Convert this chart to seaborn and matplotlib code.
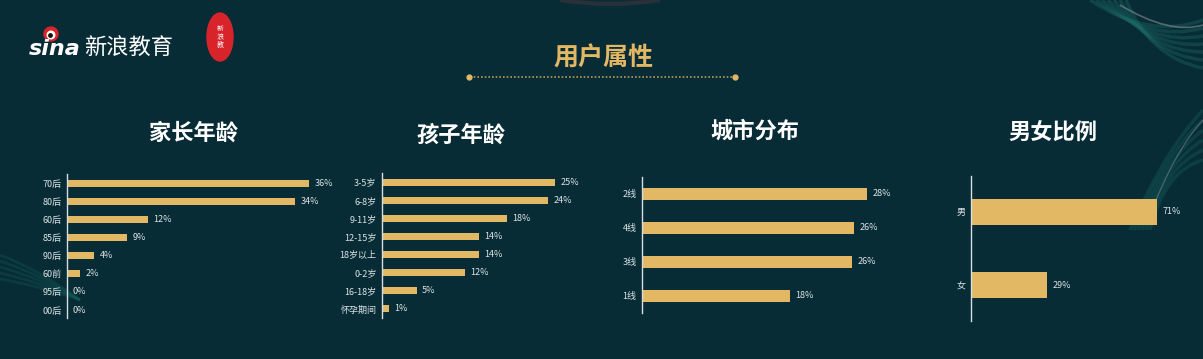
import numpy as np
import pandas as pd
import seaborn as sns
import matplotlib.pyplot as plt
from matplotlib.patches import Ellipse, Circle
from matplotlib.path import Path
from matplotlib.patches import PathPatch

# ---------------- data ----------------
parent_age_labels = ["70后", "80后", "60后", "85后", "90后", "60前", "95后", "00后"]
parent_age_values = [36, 34, 12, 9, 4, 2, 0, 0]

child_age_labels = ["3-5岁", "6-8岁", "9-11岁", "12-15岁", "18岁以上", "0-2岁", "16-18岁", "怀孕期间"]
child_age_values = [25, 24, 18, 14, 14, 12, 5, 1]

city_labels = ["2线", "4线", "3线", "1线"]
city_values = [28, 26.4, 26.1, 18.4]

gender_labels = ["男", "女"]
gender_values = [71, 29]

panel_titles = ["家长年龄", "孩子年龄", "城市分布", "男女比例"]
main_title = "用户属性"

# ---------------- style ----------------
BG = "#072c36"
GOLD = "#e2b864"
TXT = "#dce3e5"

sns.set_style("white", {"axes.facecolor": "none", "figure.facecolor": BG})
plt.rcParams["font.family"] = ["Noto Sans CJK SC", "DejaVu Sans"]

W, H = 1203, 359
fig = plt.figure(figsize=(W / 100, H / 100), dpi=100)
fig.patch.set_facecolor(BG)

# decorative background layer
bg = fig.add_axes([0, 0, 1, 1], zorder=-5)
bg.set_xlim(0, W); bg.set_ylim(H, 0); bg.axis("off")

def curve(p0, p1, p2, color, lw, alpha):
    path = Path([p0, p1, p2], [Path.MOVETO, Path.CURVE3, Path.CURVE3])
    bg.add_patch(PathPatch(path, fill=False, ec=color, lw=lw, alpha=alpha))

for i in range(7):
    curve((1090 + i * 6, 0), (1150, 40 + i * 3), (1203, 20 + i * 8), "#1f6e68", 2.5, 0.35)
curve((1120, 5), (1170, 35), (1203, 25), "#8a8f8f", 1.2, 0.6)
for i in range(6):
    curve((1130 + i * 4, 230), (1165, 150 + i * 4), (1203, 110 + i * 10), "#1a6a64", 2.5, 0.3)
curve((1150, 215), (1175, 150), (1203, 120), "#7a8888", 1.0, 0.5)
for i in range(5):
    curve((0, 255 + i * 6), (40, 270 + i * 4), (80, 300), "#17605c", 2.0, 0.3)
curve((560, 0), (610, 8), (660, 0), "#6a3a3a", 3, 0.35)

# logo
bg.add_patch(Circle((51, 34), 7, color="#d9232b"))
bg.add_patch(Circle((51, 35), 3.8, color="white"))
bg.add_patch(Circle((50.5, 35.5), 1.7, color="#111"))
bg.text(29, 49, "sina", color="white", fontsize=16, fontweight="bold", fontstyle="italic",
        va="center", ha="left", family=["DejaVu Sans"])
bg.text(84, 47, "新浪教育", color="white", fontsize=16, va="center", ha="left")
bg.add_patch(Ellipse((220, 37), 26, 48, color="#d9232b"))
bg.text(220, 37, "新\n浪\n教", color="white", fontsize=5, va="center", ha="center", linespacing=1.0)

# main title & dotted rule
bg.text(603, 58, main_title, color=GOLD, fontsize=18, fontweight="bold", ha="center", va="center")
bg.plot([470, 734], [77, 77], color=GOLD, lw=1.2, ls=(0, (1, 1.2)), alpha=0.8)
bg.plot([469, 735], [77, 77], ls="none", marker="o", ms=3.5, color=GOLD)

# ---------------- panels ----------------
panels = [
    (parent_age_labels, parent_age_values, 67, 6.72, 40, 174, 318, (7.44, -0.5), 0.38, (193, 133)),
    (child_age_labels, child_age_values, 382, 6.92, 30, 173, 318, (7.5, -0.5), 0.38, (461, 135)),
    (city_labels, city_values, 642, 8.04, 32, 177, 313, (3.5, -0.5), 0.35, (755, 131)),
    (gender_labels, gender_values, 971, 2.62, 80, 176, 321, (1.49, -0.49), 0.35, (1053, 133)),
]

for (labels, values, left, ppu, xmax, top, bottom, ylim, bh, txy), title in zip(panels, panel_titles):
    width = xmax * ppu
    ax = fig.add_axes([left / W, (H - bottom) / H, width / W, (bottom - top) / H])
    df = pd.DataFrame({"cat": labels, "val": values})
    sns.barplot(data=df, x="val", y="cat", orient="h", color=GOLD, width=bh,
                saturation=1, ax=ax, order=labels, linewidth=0, edgecolor=GOLD)
    ax.set_xlim(0, xmax)
    ax.set_ylim(*ylim)
    ax.set_xlabel(""); ax.set_ylabel("")
    ax.set_xticks([])
    for s in ["top", "right", "bottom"]:
        ax.spines[s].set_visible(False)
    ax.spines["left"].set_color("#d8dee0")
    ax.spines["left"].set_linewidth(1.0)
    ax.spines["left"].set_zorder(5)
    ax.tick_params(axis="y", length=0, pad=4, labelsize=6.5, labelcolor=TXT)
    for lab in ax.get_yticklabels():
        lab.set_family(["Noto Sans CJK SC", "DejaVu Sans"])
    for i, v in enumerate(values):
        ax.annotate(f"{round(v)}%", (v, i), xytext=(4, 0), textcoords="offset points",
                    va="center", ha="left", fontsize=6.5, color=TXT)
    bg.text(txy[0], txy[1], title, color="white", fontsize=16, fontweight="bold",
            ha="center", va="center")

fig.savefig("out.png", dpi=100, facecolor=BG)
